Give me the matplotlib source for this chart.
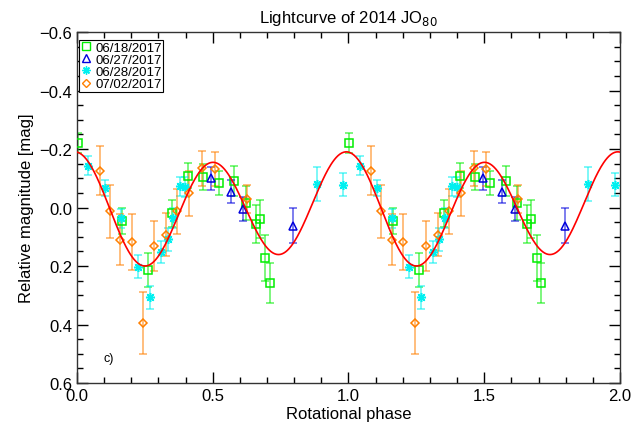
import numpy as np
import matplotlib
matplotlib.use("Agg")
import matplotlib.pyplot as plt
from matplotlib.lines import Line2D
from matplotlib.ticker import MultipleLocator, FuncFormatter

plt.rcParams['font.family'] = ['Liberation Sans', 'DejaVu Sans']

# ---- data (phase in [0,1), relative magnitude, error) ----
labels = ["06/18/2017", "06/27/2017", "06/28/2017", "07/02/2017"]

ph_0618 = [0.002, 0.165, 0.260, 0.351, 0.409, 0.466, 0.522, 0.579, 0.622, 0.658, 0.674, 0.693, 0.711]
mg_0618 = [-0.220, 0.047, 0.214, 0.020, -0.109, -0.105, -0.084, -0.090, -0.014, 0.056, 0.038, 0.172, 0.258]
er_0618 = [0.035, 0.044, 0.057, 0.047, 0.042, 0.044, 0.042, 0.051, 0.058, 0.066, 0.065, 0.079, 0.067]

ph_0627 = [0.495, 0.567, 0.612, 0.797]
mg_0627 = [-0.100, -0.054, 0.006, 0.062]
er_0627 = [0.040, 0.040, 0.041, 0.060]

ph_0628 = [0.042, 0.104, 0.161, 0.224, 0.269, 0.310, 0.334, 0.354, 0.380, 0.398, 0.884, 0.980]
mg_0628 = [-0.143, -0.067, 0.037, 0.202, 0.307, 0.153, 0.109, 0.037, -0.072, -0.071, -0.080, -0.078]
er_0628 = [0.033, 0.028, 0.032, 0.038, 0.040, 0.038, 0.038, 0.034, 0.034, 0.034, 0.057, 0.040]

ph_0702 = [0.083, 0.121, 0.160, 0.202, 0.245, 0.285, 0.329, 0.370, 0.413, 0.461, 0.507, 0.625]
mg_0702 = [-0.126, 0.013, 0.110, 0.119, 0.395, 0.132, 0.093, 0.013, -0.048, -0.134, -0.132, -0.029]
er_0702 = [0.083, 0.090, 0.088, 0.096, 0.105, 0.085, 0.074, 0.077, 0.078, 0.060, 0.059, 0.048]

# Fourier fit coefficients: c0, A1, B1, A2, B2
fourier = [0.004, -0.0175, 0.020, -0.176, 0.008]

colors = ["#00ee00", "#0000dd", "#00f0f0", "#ff8000"]
markers = ["s", "^", (8, 2, 0), "D"]
msizes = [6, 6, 6.5, 4.5]

series = [(ph_0618, mg_0618, er_0618), (ph_0627, mg_0627, er_0627),
          (ph_0628, mg_0628, er_0628), (ph_0702, mg_0702, er_0702)]

fig = plt.figure(figsize=(6.33, 4.35), dpi=100)
ax = fig.add_axes([0.1216, 0.1172, 0.8578, 0.8069])

for (ph, mg, er), c, m, ms in zip(series, colors, markers, msizes):
    ph = np.array(ph); mg = np.array(mg); er = np.array(er)
    for shift in (0.0, 1.0):
        ax.errorbar(ph + shift, mg, yerr=er, fmt='none', ecolor=c, alpha=0.55,
                    elinewidth=1.3, capsize=2.6, capthick=1.3, zorder=2)
        ax.plot(ph + shift, mg, linestyle='none', marker=m, markersize=ms,
                markerfacecolor='none' if m != (8, 2, 0) else c,
                markeredgecolor=c, markeredgewidth=1.1, zorder=3)

x = np.linspace(0, 2, 600)
c0, a1, b1, a2, b2 = fourier
y = (c0 + a1 * np.cos(2 * np.pi * x) + b1 * np.sin(2 * np.pi * x)
     + a2 * np.cos(4 * np.pi * x) + b2 * np.sin(4 * np.pi * x))
ax.plot(x, y, color='red', lw=1.2, zorder=4)

fmt = FuncFormatter(lambda v, p: ("%.1f" % v).replace("-", "\u2212"))
ax.set_xlim(0, 2)
ax.set_ylim(0.6, -0.6)
ax.xaxis.set_major_locator(MultipleLocator(0.5))
ax.xaxis.set_minor_locator(MultipleLocator(0.1))
ax.yaxis.set_major_locator(MultipleLocator(0.2))
ax.yaxis.set_minor_locator(MultipleLocator(0.05))
ax.xaxis.set_major_formatter(fmt)
ax.yaxis.set_major_formatter(fmt)
ax.tick_params(which='both', direction='in', top=True, right=True, labelsize=12, colors='black')
ax.tick_params(which='major', length=8, width=1)
ax.tick_params(which='minor', length=4, width=1)
for s in ax.spines.values():
    s.set_linewidth(1.0)
    s.set_color('#333333')

ax.set_xlabel("Rotational phase", fontsize=12, labelpad=2)
ax.set_ylabel("Relative magnitude [mag]", fontsize=12, labelpad=4)
ax.set_title("Lightcurve of 2014 JO$_{80}$", fontsize=12, pad=7)
ax.text(0.048, 0.063, "c)", transform=ax.transAxes, fontsize=9)

handles = [Line2D([], [], linestyle='none', marker=m, markersize=ms * 0.9,
                  markerfacecolor='none' if m != (8, 2, 0) else c,
                  markeredgecolor=c, markeredgewidth=1.0)
           for c, m, ms in zip(colors, markers, msizes)]
leg = ax.legend(handles, labels, loc='upper left', bbox_to_anchor=(0.004, 0.977),
                fontsize=9.5, frameon=True,
                fancybox=False, edgecolor='black', framealpha=1,
                borderpad=0.1, labelspacing=0.0, handlelength=0.8,
                handletextpad=0.35, borderaxespad=0.0)
leg.get_frame().set_linewidth(0.8)

fig.savefig("out.png", dpi=100)
